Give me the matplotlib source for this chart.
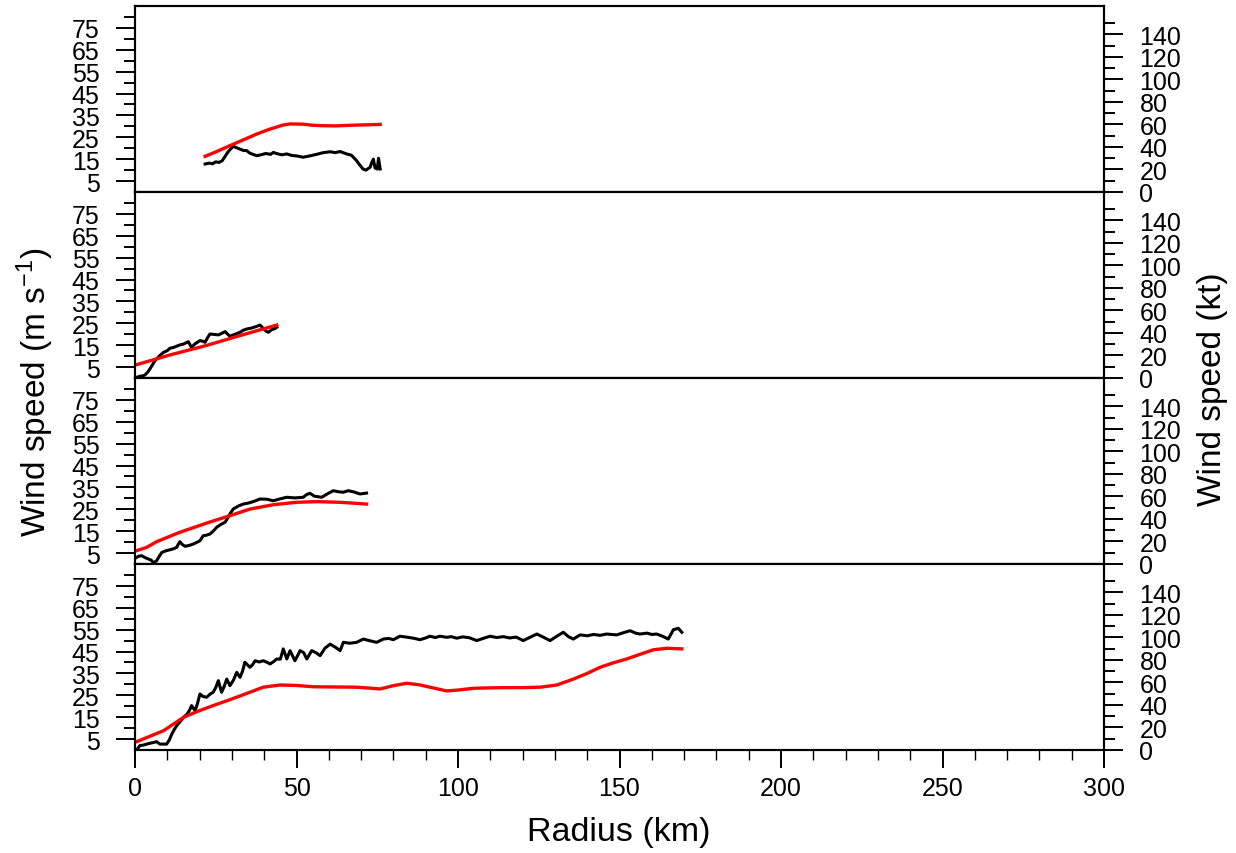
import matplotlib
matplotlib.use("Agg")
import matplotlib.pyplot as plt
from matplotlib.ticker import MultipleLocator, FixedLocator

plt.rcParams['font.family'] = ['Liberation Sans', 'DejaVu Sans']
plt.rcParams['mathtext.fontset'] = 'custom'
plt.rcParams['mathtext.rm'] = 'Liberation Sans'
plt.rcParams['mathtext.it'] = 'Liberation Sans'

MS2KT = 1.94384

# panel 1 (top)
r1_obs = [21.7, 23, 24, 25, 26, 27, 28, 28.7, 29.5, 30.4, 31.5, 32.5, 33.5, 34.6, 35.5, 36.5,
          37.7, 39, 40.5, 42, 42.8, 44, 45.5, 47, 48.5, 50, 52, 53.5, 55, 56.5, 58, 60.4, 62,
          63.5, 65.5, 67, 68.5, 69.5, 70.6, 71.5, 72.8, 73.3, 73.8, 74.3, 75, 75.4, 75.9]
v1_obs = [12.8, 13.2, 12.9, 13.8, 13.5, 14.3, 16.5, 18.1, 19.5, 20.9, 20.2, 19.6, 19.0, 18.9,
          17.8, 17.2, 16.6, 17.0, 17.6, 17.2, 18.1, 17.5, 17.0, 17.4, 16.7, 16.5, 15.9, 16.3,
          16.8, 17.3, 17.9, 18.4, 18.0, 18.5, 17.4, 16.8, 14.5, 12.5, 10.5, 10.0, 11.3, 13.5,
          15.0, 11.0, 10.5, 15.4, 10.5]
r1_mod = [21.7, 25, 29.4, 33.5, 37.7, 41.5, 45.8, 48, 52, 55, 58.2, 62, 65, 68.7, 72, 75.9]
v1_mod = [16.3, 18.3, 21.2, 23.8, 26.5, 28.6, 30.6, 31.1, 31.0, 30.5, 30.3, 30.2, 30.4, 30.6,
          30.7, 30.9]

# panel 2
r2_obs = [0.5, 1.5, 2.5, 3.1, 4.0, 4.6, 5.4, 6.2, 7.5, 8.8, 10, 10.8, 12, 13, 13.9, 15, 16.5,
          17.5, 18.5, 20.1, 21, 21.7, 22.5, 23.2, 24.5, 25.8, 27, 27.9, 28.7, 29.4, 31, 32.5,
          33.5, 34.6, 36, 37.5, 38.7, 39.7, 40.5, 41.3, 42.3, 43.2, 43.9]
v2_obs = [0.3, 0.8, 1.0, 1.4, 2.8, 4.1, 6.0, 7.9, 10.0, 11.7, 12.5, 13.6, 14.0, 14.6, 15.1,
          15.5, 16.6, 14.0, 15.5, 17.1, 16.8, 16.3, 18.5, 20.1, 19.9, 19.7, 20.5, 21.2, 20.0,
          19.1, 20.0, 20.9, 21.8, 22.4, 22.8, 23.5, 24.2, 22.7, 21.5, 20.9, 22.1, 22.5, 23.2]
r2_mod = [0.5, 11, 22.2, 33, 43.9]
v2_mod = [6.1, 10.6, 14.9, 19.6, 24.2]

# panel 3
r3_obs = [0.5, 1.2, 2.1, 3, 4.1, 5, 5.7, 6.7, 7.5, 8.3, 9.5, 10.8, 12, 12.9, 13.4, 13.9, 14.6,
          15.5, 16.8, 18, 19, 20.1, 21.1, 22.2, 23.2, 24.2, 25.3, 26.5, 27.9, 28.7, 29.4, 30.4,
          32, 33.5, 35, 36.8, 38.7, 40.8, 42.8, 45, 47, 49.5, 52.1, 53.2, 54.2, 55.5, 57.8,
          59.5, 61.4, 63, 64.5, 66, 67.6, 69.7, 71.7]
v3_obs = [3.0, 3.6, 3.8, 3.0, 2.3, 1.8, 0.5, 1.5, 3.5, 5.3, 6.0, 6.5, 7.0, 7.6, 9.0, 10.2, 9.0,
          8.1, 8.5, 9.1, 9.8, 10.6, 12.9, 13.2, 13.7, 15.0, 16.8, 18.0, 19.1, 21.0, 22.9, 25.1,
          26.5, 27.4, 27.8, 28.6, 29.7, 29.6, 28.9, 29.8, 30.5, 30.2, 30.5, 31.8, 32.3, 31.0,
          30.5, 32.0, 33.5, 33.0, 32.8, 33.5, 33.0, 32.0, 32.4]
r3_mod = [0.5, 3.6, 6.7, 13.9, 22.2, 29.4, 35.6, 42.8, 50.1, 56.3, 63.5, 71.7]
v3_mod = [6.1, 7.6, 10.2, 14.5, 18.7, 22.1, 25.1, 27.1, 28.2, 28.5, 28.2, 27.4]

# panel 4 (bottom)
r4_obs = [0.5, 1.5, 2.5, 3.6, 5, 6.7, 7.7, 9.8, 10.6, 11.4, 12.2, 12.9, 14, 15, 16.2, 17, 17.5,
          18.6, 19.3, 20.1, 21, 22.2, 23.2, 24.2, 25, 25.8, 26.8, 27.6, 28.4, 29.4, 30.5, 31.5,
          32.5, 33.3, 34, 35.6, 36.4, 37.2, 38.5, 39.7, 41, 41.8, 43, 43.9, 45, 45.9, 47, 48,
          48.8, 49.5, 50.3, 51.1, 52.2, 53.2, 54.7, 56, 57.3, 58.8, 60.4, 62, 63.5, 64.5, 66.5,
          68.6, 70.7, 72.5, 74.8, 76.9, 78.5, 80, 82, 84, 86.2, 88.2, 90, 91.3, 93, 94.4, 96.5,
          98, 99.6, 101.5, 103.5, 105.8, 107.8, 109.9, 112, 114, 116, 118, 120.2, 122.3, 124.4,
          126.5, 128.5, 130.6, 132.6, 134.2, 135.7, 137.8, 140, 142, 144, 146, 149.1, 151.2,
          153.3, 155, 156.3, 158.5, 160, 161.5, 163.3, 165.1, 166.7, 168.2, 169.3]
v4_obs = [0.0, 2.0, 2.2, 2.7, 3.2, 3.8, 2.7, 2.7, 4.5, 7.3, 9.5, 11.1, 13.0, 14.9, 16.5, 18.5,
          20.3, 18.0, 21.0, 25.6, 24.5, 24.1, 25.5, 26.4, 28.5, 31.7, 26.4, 29.0, 32.4, 29.4,
          32.0, 35.5, 33.2, 36.0, 40.1, 37.8, 39.0, 40.8, 40.2, 40.8, 40.0, 39.3, 40.5, 41.6,
          41.5, 46.2, 41.6, 45.4, 43.0, 40.8, 43.0, 45.4, 44.5, 41.6, 45.4, 44.5, 43.1, 46.5,
          48.4, 47.0, 45.4, 49.2, 48.8, 49.2, 50.7, 50.0, 49.2, 50.7, 51.0, 50.4, 52.0, 51.6,
          51.1, 50.4, 51.2, 52.0, 51.4, 52.0, 51.5, 51.8, 51.1, 51.7, 51.3, 50.0, 51.0, 52.0,
          51.4, 51.8, 51.2, 51.6, 50.0, 51.5, 53.0, 51.5, 50.0, 52.0, 53.8, 51.8, 50.7, 52.6,
          52.2, 52.8, 52.4, 53.0, 52.6, 53.6, 54.5, 53.4, 53.0, 53.4, 52.8, 53.0, 52.0, 50.7,
          55.0, 55.6, 53.8]
r4_mod = [0.5, 8.8, 15, 19.1, 24, 29.4, 34.5, 39.7, 44.9, 50, 55.2, 62, 68.6, 72.5, 75.9, 80,
          84.1, 88, 91.3, 96.5, 100, 104.7, 110, 115, 120, 125.4, 130.6, 135.7, 140, 144, 148,
          152.2, 156.5, 160.5, 164.6, 169.3]
v4_mod = [3.8, 8.8, 14.9, 17.5, 20.2, 23.0, 25.8, 28.7, 29.7, 29.5, 28.9, 28.8, 28.7, 28.3,
          27.9, 29.4, 30.5, 29.8, 28.7, 27.0, 27.4, 28.2, 28.4, 28.5, 28.5, 28.7, 29.7, 32.4,
          35.0, 37.8, 39.8, 41.6, 43.8, 45.8, 46.5, 46.2]

panels = [(r1_obs, v1_obs, r1_mod, v1_mod),
          (r2_obs, v2_obs, r2_mod, v2_mod),
          (r3_obs, v3_obs, r3_mod, v3_mod),
          (r4_obs, v4_obs, r4_mod, v4_mod)]

ms_major = [5, 15, 25, 35, 45, 55, 65, 75]
ms_minor = [10, 20, 30, 40, 50, 60, 70, 80]
kt_major = [0, 20, 40, 60, 80, 100, 120, 140]
kt_minor = [10, 30, 50, 70, 90, 110, 130, 150]
ymax = 85

fig = plt.figure(figsize=(12.36, 8.54), dpi=100)
left, right = 135 / 1236, 1104 / 1236
top_px, bot_px = 7, 751
ph = (bot_px - top_px) / 4

for i, (ro, vo, rm, vm) in enumerate(panels):
    y0 = 1 - (top_px + (i + 1) * ph) / 854
    ax = fig.add_axes([left, y0, right - left, ph / 854])
    ax.plot(ro, vo, color='black', lw=2.2)
    ax.plot(rm, vm, color='red', lw=2.4)
    ax.set_xlim(0, 300)
    ax.set_ylim(0, ymax)

    # right axis in knots
    ax2 = ax.twinx()
    ax2.set_ylim(0, ymax * MS2KT)
    ax2.yaxis.set_major_locator(FixedLocator(kt_major))
    ax2.yaxis.set_minor_locator(FixedLocator(kt_minor))
    ax2.tick_params(axis='y', which='major', direction='out', length=13.5, width=1.4,
                    labelsize=18, pad=12)
    ax2.tick_params(axis='y', which='minor', direction='out', length=8, width=1.4)
    for s in ax2.spines.values():
        s.set_linewidth(1.5)

    ax.yaxis.set_major_locator(FixedLocator(ms_major))
    ax.yaxis.set_minor_locator(FixedLocator(ms_minor))
    ax.tick_params(axis='y', which='major', direction='out', length=13.5, width=1.4,
                   labelsize=18, pad=12)
    ax.tick_params(axis='y', which='minor', direction='out', length=8, width=1.4)
    for s in ax.spines.values():
        s.set_linewidth(1.5)

    if i < 3:
        ax.tick_params(axis='x', which='both', bottom=False, labelbottom=False)
    else:
        ax.xaxis.set_major_locator(MultipleLocator(50))
        ax.xaxis.set_minor_locator(MultipleLocator(10))
        ax.tick_params(axis='x', which='major', direction='out', length=13, width=1.4,
                       labelsize=18, pad=5.5)
        ax.tick_params(axis='x', which='minor', direction='out', length=7.5, width=1.0)

fig.text(619 / 1236, 1 - 833 / 854, 'Radius (km)', ha='center', va='center', fontsize=24.5)
fig.text(35 / 1236, 1 - 392 / 854, r'Wind speed (m s$^{-1}$)', ha='center', va='center',
         rotation=90, fontsize=24)
fig.text(1212 / 1236, 1 - 389 / 854, 'Wind speed (kt)', ha='center', va='center',
         rotation=90, fontsize=24)

fig.savefig('out.png', dpi=100)
